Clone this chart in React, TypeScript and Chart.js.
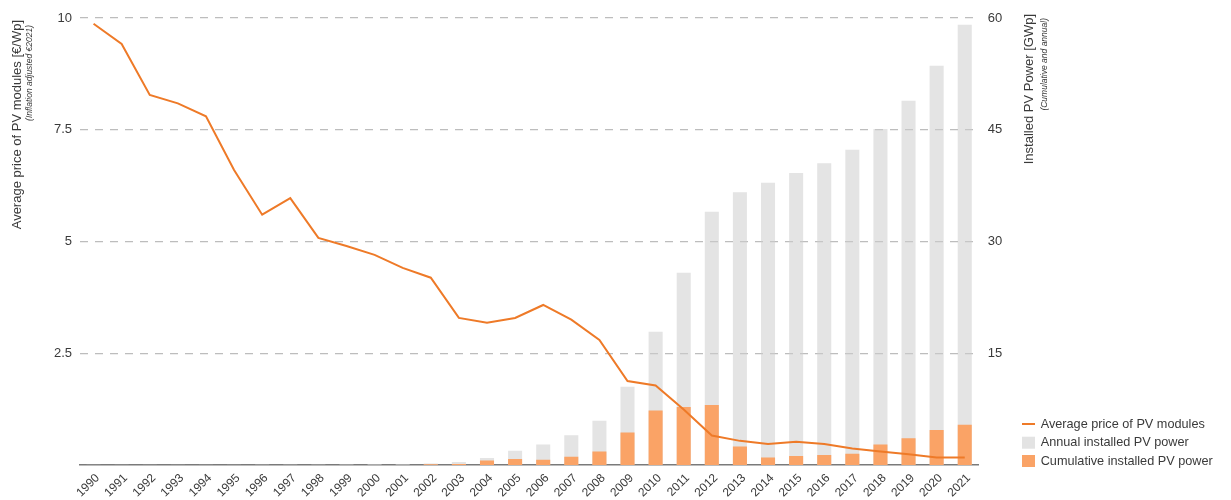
import React, { useEffect, useRef } from "react";
import { Chart, registerables } from "chart.js";

Chart.register(...registerables);

const years = [
  "1990", "1991", "1992", "1993", "1994", "1995", "1996", "1997", "1998", "1999",
  "2000", "2001", "2002", "2003", "2004", "2005", "2006", "2007", "2008", "2009",
  "2010", "2011", "2012", "2013", "2014", "2015", "2016", "2017", "2018", "2019",
  "2020", "2021",
];

// Average price of PV modules [€/Wp]
const priceValues = [
  9.87, 9.42, 8.28, 8.09, 7.8, 6.6, 5.6, 5.97, 5.08, 4.9,
  4.7, 4.41, 4.19, 3.29, 3.18, 3.29, 3.58, 3.25, 2.8, 1.88,
  1.78, 1.24, 0.66, 0.54, 0.47, 0.52, 0.47, 0.37, 0.3, 0.24,
  0.17, 0.17,
];

// Grey bars [GWp]
const annualValues = [
  0.02, 0.02, 0.03, 0.03, 0.04, 0.05, 0.06, 0.07, 0.08, 0.1,
  0.12, 0.15, 0.2, 0.4, 0.95, 1.9, 2.75, 4.0, 5.95, 10.5,
  17.9, 25.8, 34.0, 36.6, 37.9, 39.2, 40.5, 42.3, 45.1, 48.9,
  53.6, 59.1,
];

// Orange bars [GWp]
const cumulativeValues = [
  0, 0, 0, 0, 0, 0, 0, 0, 0, 0,
  0, 0, 0.1, 0.15, 0.6, 0.8, 0.72, 1.1, 1.8, 4.35,
  7.3, 7.8, 8.05, 2.5, 1.0, 1.2, 1.35, 1.5, 2.75, 3.6,
  4.7, 5.4,
];

const seriesLabels = [
  "Average price of PV modules",
  "Annual installed PV power",
  "Cumulative installed PV power",
];

const leftTitle = "Average price of PV modules [€/Wp]";
const leftSubtitle = "(Inflation adjusted €2021)";
const rightTitle = "Installed PV Power [GWp]";
const rightSubtitle = "(Cumulative and annual)";

const FONT = "'Liberation Sans', Arial, Helvetica, sans-serif";
const TEXT = "#3a3a3a";
const LINE_COLOR = "#ee7a28";
const ORANGE = "#faa366";
const GRAY = "rgba(205,205,205,0.55)";
const GRAY_SOLID = "#e3e3e3";
const GRID = "#bdbdbd";

const W = 1215;
const H = 492;

function drawVertical(ctx: CanvasRenderingContext2D, text: string, x: number, yTop: number, font: string) {
  ctx.save();
  ctx.translate(x, yTop);
  ctx.rotate(-Math.PI / 2);
  ctx.font = font;
  ctx.fillStyle = TEXT;
  ctx.textAlign = "right";
  ctx.textBaseline = "middle";
  ctx.fillText(text, 0, 0);
  ctx.restore();
}

const annotationPlugin = {
  id: "annotations",
  afterDraw(chart: any) {
    const ctx: CanvasRenderingContext2D = chart.ctx;
    drawVertical(ctx, leftTitle, 9, 12, `13px ${FONT}`);
    drawVertical(ctx, leftSubtitle, 22, 17, `italic 8.5px ${FONT}`);
    drawVertical(ctx, rightTitle, 1021.5, 6, `13px ${FONT}`);
    drawVertical(ctx, rightSubtitle, 1037, 10, `italic 8.5px ${FONT}`);

    // legend
    const ds = chart.data.datasets;
    const x0 = 1014;
    const ys = [416, 434.7, 453];
    ctx.save();
    ctx.font = `12.7px ${FONT}`;
    ctx.textBaseline = "middle";
    ctx.textAlign = "left";
    ds.forEach((d: any, i: number) => {
      const y = ys[i];
      if (d.type === "line") {
        ctx.strokeStyle = d.borderColor;
        ctx.lineWidth = 2;
        ctx.beginPath();
        ctx.moveTo(x0, y);
        ctx.lineTo(x0 + 13, y);
        ctx.stroke();
      } else {
        ctx.fillStyle = i === 1 ? GRAY_SOLID : d.backgroundColor;
        ctx.fillRect(x0, y - 6, 13, 12);
      }
      ctx.fillStyle = TEXT;
      ctx.fillText(d.label, x0 + 18.7, y);
    });
    ctx.restore();
  },
};

export default function App() {
  const ref = useRef<HTMLCanvasElement | null>(null);

  useEffect(() => {
    document.body.style.overflow = "hidden";
    const canvas = ref.current;
    if (!canvas) return;
    const chart = new Chart(canvas, {
      data: {
        labels: years,
        datasets: [
          {
            type: "line",
            label: seriesLabels[0],
            data: priceValues,
            yAxisID: "yPrice",
            borderColor: LINE_COLOR,
            borderWidth: 2,
            pointRadius: 0,
            tension: 0,
            order: 0,
          },
          {
            type: "bar",
            label: seriesLabels[1],
            data: annualValues,
            yAxisID: "yPower",
            backgroundColor: GRAY,
            grouped: false,
            barPercentage: 0.5,
            categoryPercentage: 1,
            order: 2,
          },
          {
            type: "bar",
            label: seriesLabels[2],
            data: cumulativeValues,
            yAxisID: "yPower",
            backgroundColor: ORANGE,
            grouped: false,
            barPercentage: 0.5,
            categoryPercentage: 1,
            order: 1,
          },
        ],
      } as any,
      options: {
        responsive: false,
        animation: false,
        layout: { padding: { top: 10, right: 204.2, left: 0, bottom: 0 } },
        plugins: { legend: { display: false }, tooltip: { enabled: false } },
        scales: {
          x: {
            offset: true,
            grid: { display: false },
            border: { display: true, color: "#7a7a7a", width: 1.5 },
            ticks: {
              font: { family: FONT, size: 12 },
              color: TEXT,
              maxRotation: 45,
              minRotation: 45,
              autoSkip: false,
              padding: -2,
              labelOffset: 4,
            },
            afterFit: (s: any) => {
              s.height = 35;
              s.paddingLeft = 0;
              s.paddingRight = 0;
            },
          },
          yPrice: {
            position: "left",
            min: 0,
            max: 10,
            ticks: {
              stepSize: 2.5,
              callback: (v: any) => (v === 0 ? "" : String(v)),
              padding: 7.5,
              font: { family: FONT, size: 13 },
              color: TEXT,
            },
            grid: {
              color: (c: any) => (c.tick && c.tick.value === 0 ? "rgba(0,0,0,0)" : GRID),
              lineWidth: 1.2,
              drawTicks: false,
            },
            border: { display: false, dash: [8, 7] },
            afterFit: (s: any) => {
              s.width = 71.5;
              s.paddingTop = 0;
              s.paddingBottom = 0;
            },
          },
          yPower: {
            position: "right",
            min: 0,
            max: 60,
            ticks: {
              stepSize: 15,
              callback: (v: any) => (v === 0 ? "" : String(v)),
              padding: 9,
              font: { family: FONT, size: 13 },
              color: TEXT,
            },
            grid: { display: false, drawTicks: false },
            border: { display: false },
            afterFit: (s: any) => {
              s.width = 40;
              s.paddingTop = 0;
              s.paddingBottom = 0;
            },
          },
        },
      } as any,
      plugins: [annotationPlugin],
    });
    return () => chart.destroy();
  }, []);

  return (
    <div style={{ width: W, height: H }}>
      <canvas ref={ref} width={W} height={H} style={{ display: "block", width: W, height: H }} />
    </div>
  );
}
